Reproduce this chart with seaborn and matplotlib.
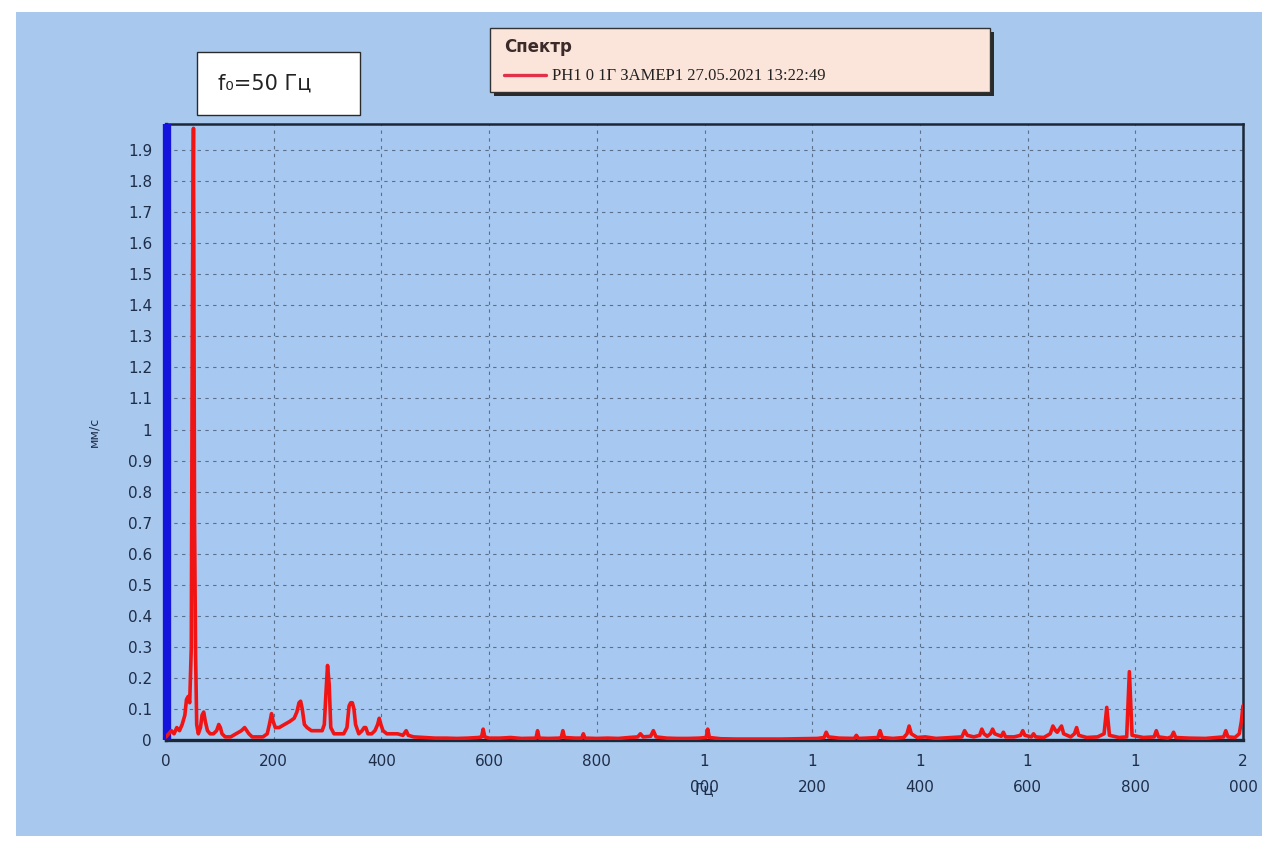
import matplotlib
matplotlib.use("Agg")
import matplotlib.pyplot as plt
from matplotlib.patches import Rectangle
from matplotlib.lines import Line2D
import seaborn as sns
import pandas as pd

# ---- data ----
freq_low = [0, 5, 10, 15, 20, 25, 30, 35, 38, 41,
            44, 47, 49, 51, 53, 55, 57, 60, 64, 67,
            70, 73, 77, 82, 88, 94, 98, 101, 104, 110,
            120, 130, 140, 146, 150, 154, 160, 170, 180, 188,
            192, 196, 199, 203, 210, 220, 230, 238, 243, 247,
            250, 253, 257, 262, 270, 280, 290, 294, 297, 300,
            303, 306, 312, 320, 330, 336, 340, 343, 346, 349,
            352, 358, 364, 368, 371, 375, 382, 388, 393, 396,
            399, 403, 410, 420, 430, 440, 446, 450, 460]
amp_low = [0.01, 0.02, 0.03, 0.02, 0.04, 0.03, 0.05, 0.08, 0.13, 0.14,
           0.12, 0.30, 1.40, 1.97, 0.70, 0.27, 0.05, 0.02, 0.04, 0.08,
           0.09, 0.06, 0.03, 0.02, 0.02, 0.03, 0.05, 0.04, 0.02, 0.01,
           0.01, 0.02, 0.03, 0.04, 0.03, 0.02, 0.01, 0.01, 0.01, 0.02,
           0.05, 0.085, 0.06, 0.04, 0.04, 0.05, 0.06, 0.07, 0.09, 0.12,
           0.125, 0.10, 0.05, 0.04, 0.03, 0.03, 0.03, 0.05, 0.15, 0.24,
           0.18, 0.04, 0.02, 0.02, 0.02, 0.04, 0.11, 0.12, 0.12, 0.10,
           0.05, 0.02, 0.03, 0.04, 0.04, 0.02, 0.02, 0.03, 0.05, 0.07,
           0.05, 0.03, 0.02, 0.02, 0.02, 0.015, 0.03, 0.015, 0.01]

freq_high = [480, 500, 520, 540, 560, 580, 586, 589, 592, 600,
             620, 640, 660, 680, 687, 690, 693, 710, 730, 734,
             737, 740, 760, 772, 775, 778, 800, 820, 840, 860,
             876, 881, 886, 900, 905, 910, 930, 950, 970, 990,
             1003, 1006, 1009, 1030, 1060, 1100, 1140, 1180, 1210, 1222,
             1226, 1230, 1250, 1278, 1282, 1286, 1300, 1322, 1326, 1330,
             1350, 1370, 1376, 1380, 1384, 1395, 1410, 1430, 1460, 1478,
             1483, 1488, 1500, 1511, 1515, 1519, 1525, 1531, 1535, 1539,
             1551, 1555, 1559, 1575, 1587, 1591, 1595, 1607, 1611, 1615,
             1630, 1642, 1647, 1652, 1655, 1659, 1663, 1667, 1680, 1687,
             1691, 1695, 1710, 1730, 1742, 1747, 1752, 1770, 1784, 1789,
             1794, 1815, 1835, 1839, 1843, 1860, 1867, 1871, 1875, 1900,
             1930, 1950, 1964, 1968, 1972, 1985, 1993, 1997, 2000]
amp_high = [0.008, 0.006, 0.006, 0.005, 0.006, 0.008, 0.01, 0.035, 0.01, 0.006,
            0.006, 0.008, 0.005, 0.006, 0.006, 0.03, 0.006, 0.005, 0.006, 0.008,
            0.03, 0.008, 0.006, 0.006, 0.02, 0.006, 0.005, 0.006, 0.005, 0.008,
            0.01, 0.02, 0.01, 0.012, 0.03, 0.01, 0.006, 0.005, 0.005, 0.006,
            0.008, 0.035, 0.008, 0.004, 0.003, 0.003, 0.003, 0.004, 0.005, 0.008,
            0.025, 0.01, 0.006, 0.005, 0.015, 0.005, 0.006, 0.008, 0.03, 0.008,
            0.005, 0.008, 0.02, 0.045, 0.02, 0.008, 0.01, 0.005, 0.008, 0.01,
            0.03, 0.015, 0.01, 0.015, 0.035, 0.02, 0.012, 0.02, 0.035, 0.02,
            0.012, 0.025, 0.01, 0.01, 0.015, 0.03, 0.015, 0.01, 0.02, 0.01,
            0.008, 0.02, 0.045, 0.03, 0.025, 0.035, 0.045, 0.02, 0.01, 0.02,
            0.04, 0.015, 0.008, 0.01, 0.02, 0.105, 0.015, 0.008, 0.01, 0.22,
            0.015, 0.008, 0.01, 0.03, 0.01, 0.006, 0.01, 0.025, 0.008, 0.006,
            0.005, 0.008, 0.01, 0.03, 0.01, 0.008, 0.02, 0.06, 0.11]

marker_freq = 2  # blue marker line position, Hz
x_ticks = [0, 200, 400, 600, 800, 1000, 1200, 1400, 1600, 1800, 2000]
x_tick_labels = ["0", "200", "400", "600", "800", "1\n000", "1\n200",
                 "1\n400", "1\n600", "1\n800", "2\n000"]
y_ticks = [0, 0.1, 0.2, 0.3, 0.4, 0.5, 0.6, 0.7, 0.8, 0.9, 1.0,
           1.1, 1.2, 1.3, 1.4, 1.5, 1.6, 1.7, 1.8, 1.9]
y_tick_labels = ["0", "0.1", "0.2", "0.3", "0.4", "0.5", "0.6", "0.7", "0.8",
                 "0.9", "1", "1.1", "1.2", "1.3", "1.4", "1.5", "1.6", "1.7",
                 "1.8", "1.9"]
legend_title = "Спектр"
series_name = "РН1 0 1Г ЗАМЕР1 27.05.2021 13:22:49"
f0_text = "f₀=50 Гц"

df = pd.DataFrame({"freq": freq_low + freq_high, "amp": amp_low + amp_high})

# ---- style ----
sns.set_theme(style="white")
plt.rcParams["font.family"] = ["DejaVu Sans"]

W, H = 1273, 842
fig = plt.figure(figsize=(W / 100, H / 100), dpi=100, facecolor="white")
bg = "#a8c8ee"
fig.patches.append(Rectangle((16 / W, 6 / H), 1246 / W, 824 / H,
                             transform=fig.transFigure, facecolor=bg,
                             edgecolor="none", zorder=-10))

ax = fig.add_axes([166 / W, 1 - 740 / H, 1077 / W, 616 / H])
ax.set_zorder(1)
ax.set_facecolor("#a7c8f0")

red = "#f01414"
ax.axvline(marker_freq, color="#1414dc", linewidth=6.0, zorder=3,
           clip_on=False, solid_capstyle="butt")
sns.lineplot(data=df, x="freq", y="amp", ax=ax, color=red, linewidth=2.6,
             estimator=None, sort=False, zorder=4)

ax.set_xlim(0, 2000)
ax.set_ylim(0, 1.984)
ax.set_xticks(x_ticks)
ax.set_xticklabels(x_tick_labels, fontsize=11, color="#1e2d48",
                   linespacing=1.9, va="top")
ax.set_yticks(y_ticks)
ax.set_yticklabels(y_tick_labels, fontsize=11, color="#1e2d48")
ax.tick_params(axis="both", which="both", length=4, width=1, color="#4a5a75",
               direction="out", pad=6)

ax.grid(True, color="#5b6e8a", linestyle=(0, (3, 4)), linewidth=0.8)
for s in ax.spines.values():
    s.set_color("#1c2838")
    s.set_linewidth(1.8)
ax.spines["left"].set_linewidth(2.4)
ax.spines["bottom"].set_linewidth(2.4)

ax.set_xlabel("Гц", fontsize=11, color="#1e2d48", labelpad=-9)
ax.set_ylabel("мм/с", fontsize=9, color="#1e2d48", labelpad=20)

# f0 box
fig.patches.append(Rectangle((197 / W, 1 - 115 / H), 163 / W, 63 / H,
                             transform=fig.transFigure, facecolor="white",
                             edgecolor="#2a2a2a", linewidth=1, zorder=5))
fig.text(218 / W, 1 - 84 / H, f0_text, fontsize=15, color="#222222",
         va="center", ha="left", zorder=6)

# legend box with shadow
fig.patches.append(Rectangle((494 / W, 1 - 96 / H), 500 / W, 64 / H,
                             transform=fig.transFigure, facecolor="#2a2a2a",
                             edgecolor="none", zorder=5))
fig.patches.append(Rectangle((490 / W, 1 - 92 / H), 500 / W, 64 / H,
                             transform=fig.transFigure, facecolor="#fbe4da",
                             edgecolor="#333333", linewidth=1, zorder=6))
fig.text(504 / W, 1 - 47 / H, legend_title, fontsize=12, fontweight="bold",
         color="#3a2a2a", va="center", ha="left", zorder=7)
fig.lines.append(Line2D([504 / W, 546 / W], [1 - 75 / H, 1 - 75 / H],
                        transform=fig.transFigure, color="#e0304a",
                        linewidth=2.4, zorder=7))
fig.text(552 / W, 1 - 76 / H, series_name, fontsize=12,
         family=["Liberation Serif", "DejaVu Serif"], color="#222222",
         va="center", ha="left", zorder=7)

fig.savefig("out.png", dpi=100, facecolor="white")
